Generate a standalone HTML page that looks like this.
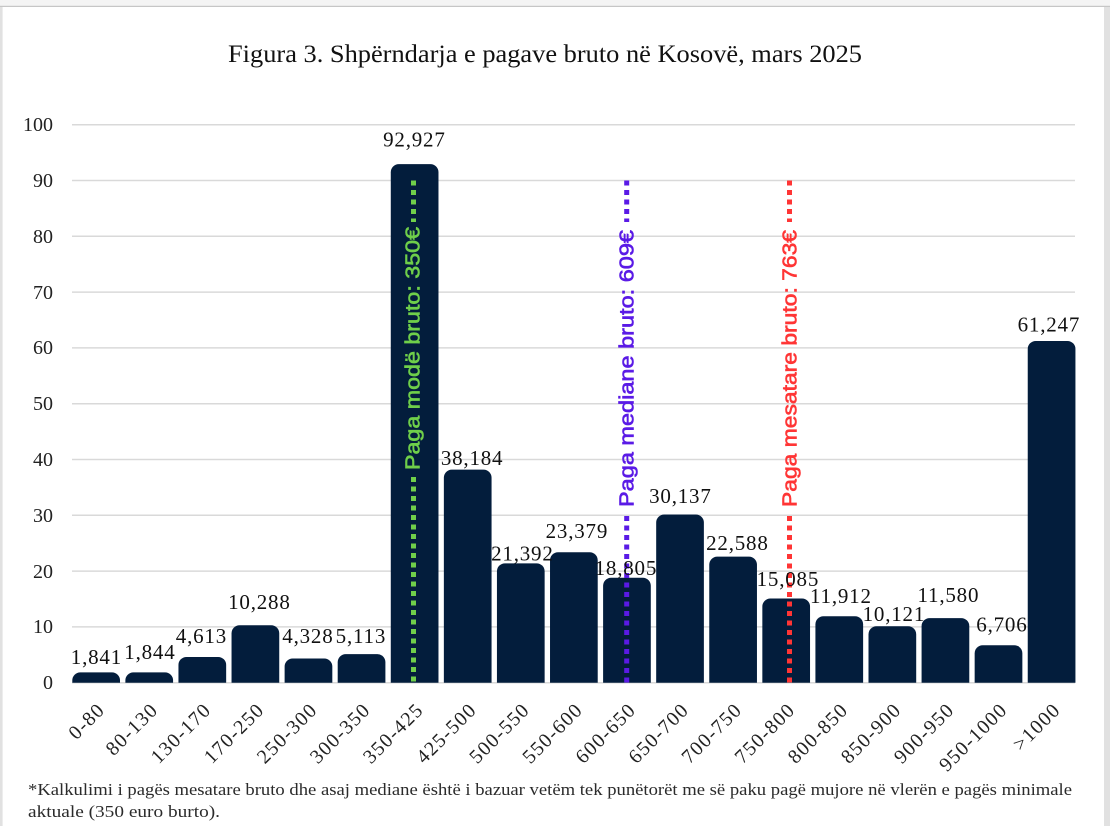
<!DOCTYPE html>
<html><head><meta charset="utf-8"><style>
html,body{margin:0;padding:0;background:#fff;}
svg{display:block;}
.s{font-family:"Liberation Serif",serif;}
.a{font-family:"Liberation Sans",sans-serif;}
</style></head><body>
<svg width="1110" height="826" viewBox="0 0 1110 826" xmlns="http://www.w3.org/2000/svg">
<rect x="0" y="0" width="1110" height="826" fill="#fff"/>
<rect x="0" y="0" width="1110" height="6" fill="#f4f4f4"/>
<rect x="0" y="5.8" width="1110" height="1.2" fill="#c6c6c6"/>
<rect x="1104" y="7" width="6" height="819" fill="#e1e1e1"/>
<rect x="0" y="7" width="2.6" height="819" fill="#e1e1e1"/>

<text class="s" x="228" y="62" font-size="25" fill="#111" textLength="634" lengthAdjust="spacingAndGlyphs">Figura 3. Shpërndarja e pagave bruto në Kosovë, mars 2025</text>

<g stroke="#d9d9d9" stroke-width="1.5">
<line x1="72" y1="124.7" x2="1075" y2="124.7"/>
<line x1="72" y1="180.5" x2="1075" y2="180.5"/>
<line x1="72" y1="236.3" x2="1075" y2="236.3"/>
<line x1="72" y1="292.1" x2="1075" y2="292.1"/>
<line x1="72" y1="347.9" x2="1075" y2="347.9"/>
<line x1="72" y1="403.7" x2="1075" y2="403.7"/>
<line x1="72" y1="459.5" x2="1075" y2="459.5"/>
<line x1="72" y1="515.3" x2="1075" y2="515.3"/>
<line x1="72" y1="571.1" x2="1075" y2="571.1"/>
<line x1="72" y1="626.9" x2="1075" y2="626.9"/>
<line x1="72" y1="682.7" x2="1075" y2="682.7"/>
</g>

<g class="s" font-size="20" fill="#222" text-anchor="end">
<text x="53" y="131">100</text>
<text x="53" y="187">90</text>
<text x="53" y="243">80</text>
<text x="53" y="299">70</text>
<text x="53" y="354">60</text>
<text x="53" y="410">50</text>
<text x="53" y="466">40</text>
<text x="53" y="522">30</text>
<text x="53" y="578">20</text>
<text x="53" y="633">10</text>
<text x="53" y="689">0</text>
</g>

<g fill="#031d3c">
<path d="M72.3 682.7V680.43a8 8 0 0 1 8-8h31.7a8 8 0 0 1 8 8V682.7Z"/>
<path d="M125.38 682.7V680.41a8 8 0 0 1 8-8h31.7a8 8 0 0 1 8 8V682.7Z"/>
<path d="M178.46 682.7V664.96a8 8 0 0 1 8-8h31.7a8 8 0 0 1 8 8V682.7Z"/>
<path d="M231.54 682.7V633.29a8 8 0 0 1 8-8h31.7a8 8 0 0 1 8 8V682.7Z"/>
<path d="M284.62 682.7V666.55a8 8 0 0 1 8-8h31.7a8 8 0 0 1 8 8V682.7Z"/>
<path d="M337.7 682.7V662.17a8 8 0 0 1 8-8h31.7a8 8 0 0 1 8 8V682.7Z"/>
<path d="M390.78 682.7V172.17a8 8 0 0 1 8-8h31.7a8 8 0 0 1 8 8V682.7Z"/>
<path d="M443.86 682.7V477.63a8 8 0 0 1 8-8h31.7a8 8 0 0 1 8 8V682.7Z"/>
<path d="M496.94 682.7V571.33a8 8 0 0 1 8-8h31.7a8 8 0 0 1 8 8V682.7Z"/>
<path d="M550.02 682.7V560.25a8 8 0 0 1 8-8h31.7a8 8 0 0 1 8 8V682.7Z"/>
<path d="M603.1 682.7V585.77a8 8 0 0 1 8-8h31.7a8 8 0 0 1 8 8V682.7Z"/>
<path d="M656.18 682.7V522.54a8 8 0 0 1 8-8h31.7a8 8 0 0 1 8 8V682.7Z"/>
<path d="M709.26 682.7V564.66a8 8 0 0 1 8-8h31.7a8 8 0 0 1 8 8V682.7Z"/>
<path d="M762.34 682.7V606.53a8 8 0 0 1 8-8h31.7a8 8 0 0 1 8 8V682.7Z"/>
<path d="M815.42 682.7V624.23a8 8 0 0 1 8-8h31.7a8 8 0 0 1 8 8V682.7Z"/>
<path d="M868.5 682.7V634.22a8 8 0 0 1 8-8h31.7a8 8 0 0 1 8 8V682.7Z"/>
<path d="M921.58 682.7V626.08a8 8 0 0 1 8-8h31.7a8 8 0 0 1 8 8V682.7Z"/>
<path d="M974.66 682.7V653.28a8 8 0 0 1 8-8h31.7a8 8 0 0 1 8 8V682.7Z"/>
<path d="M1027.74 682.7V348.94a8 8 0 0 1 8-8h31.7a8 8 0 0 1 8 8V682.7Z"/>
</g>

<g stroke-width="5" stroke-dasharray="5 4.5" fill="none">
<line x1="413.5" y1="180.5" x2="413.5" y2="222" stroke="#6fcf4a"/>
<line x1="413.5" y1="477" x2="413.5" y2="682.7" stroke="#6fcf4a"/>
<line x1="626.7" y1="180.5" x2="626.7" y2="222" stroke="#5a1ae6"/>
<line x1="626.7" y1="516" x2="626.7" y2="682.7" stroke="#5a1ae6"/>
<line x1="789.5" y1="180.5" x2="789.5" y2="222" stroke="#ff3535"/>
<line x1="789.5" y1="516" x2="789.5" y2="682.7" stroke="#ff3535"/>
</g>
<g class="a" font-size="20">
<text transform="translate(419.5,470) rotate(-90)" fill="#6fcf4a" stroke="#6fcf4a" stroke-width="0.6" textLength="243" lengthAdjust="spacingAndGlyphs">Paga modë bruto: 350€</text>
<text transform="translate(633.5,507) rotate(-90)" fill="#5a1ae6" stroke="#5a1ae6" stroke-width="0.6" textLength="277" lengthAdjust="spacingAndGlyphs">Paga mediane bruto: 609€</text>
<text transform="translate(796.5,507) rotate(-90)" fill="#ff3535" stroke="#ff3535" stroke-width="0.6" textLength="277" lengthAdjust="spacingAndGlyphs">Paga mesatare bruto: 763€</text>
</g>

<g class="s" font-size="21" fill="#111" text-anchor="middle" letter-spacing="0.8">
<text x="96.4" y="664">1,841</text>
<text x="149.9" y="659">1,844</text>
<text x="201.4" y="643">4,613</text>
<text x="259.4" y="609">10,288</text>
<text x="307.9" y="643">4,328</text>
<text x="360.9" y="643">5,113</text>
<text x="414.4" y="146.5">92,927</text>
<text x="472.1" y="465">38,184</text>
<text x="522.4" y="560.5">21,392</text>
<text x="576.9" y="538">23,379</text>
<text x="625.9" y="575">18,805</text>
<text x="680.4" y="503">30,137</text>
<text x="737.4" y="550">22,588</text>
<text x="787.9" y="586">15,085</text>
<text x="840.9" y="603">11,912</text>
<text x="893.9" y="621">10,121</text>
<text x="948.4" y="602">11,580</text>
<text x="1001.9" y="631.5">6,706</text>
<text x="1048.9" y="331.5">61,247</text>
</g>

<g class="s" font-size="20" fill="#222" text-anchor="end" letter-spacing="1.3">
<text transform="translate(106,711) rotate(-45)">0-80</text>
<text transform="translate(159.2,711) rotate(-45)">80-130</text>
<text transform="translate(212.3,711) rotate(-45)">130-170</text>
<text transform="translate(265.4,711) rotate(-45)">170-250</text>
<text transform="translate(318.5,711) rotate(-45)">250-300</text>
<text transform="translate(371.5,711) rotate(-45)">300-350</text>
<text transform="translate(424.6,711) rotate(-45)">350-425</text>
<text transform="translate(477.7,711) rotate(-45)">425-500</text>
<text transform="translate(530.8,711) rotate(-45)">500-550</text>
<text transform="translate(583.9,711) rotate(-45)">550-600</text>
<text transform="translate(637,711) rotate(-45)">600-650</text>
<text transform="translate(690,711) rotate(-45)">650-700</text>
<text transform="translate(743.1,711) rotate(-45)">700-750</text>
<text transform="translate(796.2,711) rotate(-45)">750-800</text>
<text transform="translate(849.3,711) rotate(-45)">800-850</text>
<text transform="translate(902.4,711) rotate(-45)">850-900</text>
<text transform="translate(955.4,711) rotate(-45)">900-950</text>
<text transform="translate(1008.5,711) rotate(-45)">950-1000</text>
<text transform="translate(1061.6,711) rotate(-45)">&gt;1000</text>
</g>

<g class="s" font-size="17" fill="#2b2b2b">
<text x="28" y="795" textLength="1044" lengthAdjust="spacingAndGlyphs">*Kalkulimi i pagës mesatare bruto dhe asaj mediane është i bazuar vetëm tek punëtorët me së paku pagë mujore në vlerën e pagës minimale</text>
<text x="28" y="817" textLength="192" lengthAdjust="spacingAndGlyphs">aktuale (350 euro burto).</text>
</g>
</svg>
</body></html>
